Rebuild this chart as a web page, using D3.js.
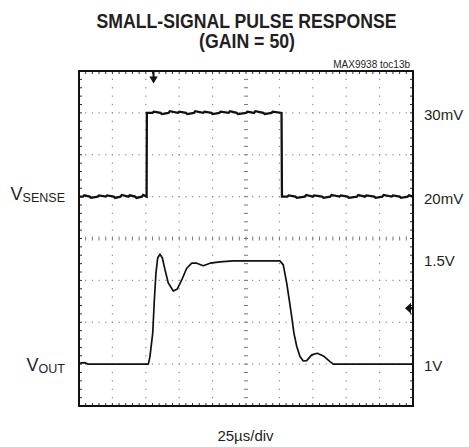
<!DOCTYPE html>
<html>
<head>
<meta charset="utf-8">
<script src="https://cdn.jsdelivr.net/npm/d3@7"></script>
<style>
    body { margin: 0; background: #fff; }
    text { font-family: "Liberation Sans", Arial, Helvetica, sans-serif; fill: #231f20; }
</style>
</head>
<body>
<div id="main"></div>
<script>
// scope settings: 25us/div over 10 div, VSENSE 5mV/div, VOUT 200mV/div, 8 div tall
const timeDomain = [0, 250];
const senseDomain = [-5, 35];
const outDomain = [0.8, 2.4];

// VSENSE trace (us, mV)
const senseTime = [0, 3, 4, 8, 9, 14, 15, 20, 21, 26, 27, 31, 32, 37, 38, 42, 43, 47, 48, 50.6,
    50.8, 55, 56, 61, 62, 67, 68, 74, 75, 80, 81, 86, 87, 93, 94, 99, 100, 105, 106, 112, 113,
    118, 119, 125, 126, 131, 132, 138, 139, 144, 145, 151.6,
    151.9, 156, 157, 162, 163, 169, 170, 175, 176, 182, 183, 188, 189, 195, 196, 201, 202,
    208, 209, 214, 215, 221, 222, 227, 228, 234, 235, 240, 241, 246, 247, 250];
const senseMv = [20.0, 20.0, 20.15, 20.0, 19.85, 20.0, 20.15, 20.0, 20.15, 20.0, 19.85, 20.0, 20.2, 20.0, 20.15, 20.0, 19.85, 20.0, 20.2, 20.0,
    30.0, 30.0, 30.15, 30.0, 29.85, 30.0, 30.2, 30.0, 30.15, 30.0, 29.85, 30.0, 30.2, 30.0, 30.15, 30.0, 29.85, 30.0, 30.15, 30.0, 30.2,
    30.0, 29.85, 30.0, 30.15, 30.0, 30.2, 30.0, 29.85, 30.0, 30.15, 30.0,
    20.0, 20.0, 20.15, 20.0, 19.85, 20.0, 20.2, 20.0, 20.15, 20.0, 19.85, 20.0, 20.2, 20.0, 20.15, 20.0, 19.85,
    20.0, 20.2, 20.0, 20.15, 20.0, 19.85, 20.0, 20.2, 20.0, 20.15, 20.0, 19.85, 20.0, 20.15, 20.0];

// VOUT trace (us, V)
const outTime = [0, 2, 4.5, 6.7, 30, 51.9, 53.1, 55.2, 56.4, 57.6, 58.9, 60.6, 62.4, 64.4, 66.8,
    70.6, 73.6, 76.9, 80.6, 84.4, 88.1, 93.0, 98.1, 105.5, 115.3, 150.4, 152.9, 155.5, 157.4, 159.2,
    160.9, 163.0, 165.4, 167.9, 170.4, 174.2, 178.4, 182.9, 187.9, 190.4, 250];
const outVolts = [1.003, 1.006, 1.007, 1.0, 1.0, 1.0, 1.036, 1.149, 1.306, 1.435, 1.507, 1.525, 1.507, 1.450, 1.388,
    1.349, 1.359, 1.402, 1.458, 1.482, 1.482, 1.470, 1.482, 1.488, 1.493, 1.493, 1.474, 1.386, 1.306, 1.227,
    1.147, 1.084, 1.036, 1.015, 1.017, 1.044, 1.052, 1.039, 1.012, 1.0, 1.0];

// right side level labels
const senseLabels = [30, 20];
const outLabels = [1.5, 1];

// trigger markers
const triggerTime = 55.8;
const triggerLevel = 1.267;

const width = 469, height = 447;
const plotLeft = 79, plotRight = 413, plotTop = 71, plotBottom = 406;
const xDivs = 10, yDivs = 8;

let svg = d3.select('#main')
                .append('svg')
                    .attr('width', width)
                    .attr('height', height);

const x = d3.scaleLinear().domain(timeDomain).range([plotLeft, plotRight]);
const ySense = d3.scaleLinear().domain(senseDomain).range([plotBottom, plotTop]);
const yOut = d3.scaleLinear().domain(outDomain).range([plotBottom, plotTop]);

const dx = (plotRight - plotLeft) / xDivs, dy = (plotBottom - plotTop) / yDivs;

// dotted grid, dots sit on the minor tick positions
const grid = svg.append('g').attr('fill', '#8a8a8a');
for (let i = 1; i < xDivs; i++) {
    if (i === xDivs / 2) continue;
    for (let j = 1; j < yDivs * 5; j++) {
        grid.append('rect')
            .attr('x', plotLeft + i * dx - 0.6).attr('y', plotTop + j * dy / 5 - 0.6)
            .attr('width', 1.2).attr('height', 1.2);
    }
}
for (let k = 1; k < yDivs; k++) {
    if (k === yDivs / 2) continue;
    for (let j = 1; j < xDivs * 5; j++) {
        grid.append('rect')
            .attr('x', plotLeft + j * dx / 5 - 0.6).attr('y', plotTop + k * dy - 0.6)
            .attr('width', 1.2).attr('height', 1.2);
    }
}

// centre axes with minor ticks, plus ticks on the inside of the frame
const ticks = svg.append('g').attr('stroke', '#777').attr('stroke-width', 1);
const cx = plotLeft + dx * xDivs / 2, cy = plotTop + dy * yDivs / 2;
for (let j = 1; j < xDivs * 5; j++) {
    const px = plotLeft + j * dx / 5;
    ticks.append('line').attr('x1', px).attr('x2', px).attr('y1', cy - 2).attr('y2', cy + 2);
    ticks.append('line').attr('x1', px).attr('x2', px).attr('y1', plotTop).attr('y2', plotTop + 3).attr('stroke', '#333');
    ticks.append('line').attr('x1', px).attr('x2', px).attr('y1', plotBottom).attr('y2', plotBottom - 3).attr('stroke', '#333');
}
for (let j = 1; j < yDivs * 5; j++) {
    const py = plotTop + j * dy / 5;
    ticks.append('line').attr('y1', py).attr('y2', py).attr('x1', cx - 2).attr('x2', cx + 2);
    ticks.append('line').attr('y1', py).attr('y2', py).attr('x1', plotLeft).attr('x2', plotLeft + 3).attr('stroke', '#333');
    ticks.append('line').attr('y1', py).attr('y2', py).attr('x1', plotRight).attr('x2', plotRight - 3).attr('stroke', '#333');
}

// frame
svg.append('rect')
    .attr('x', plotLeft).attr('y', plotTop)
    .attr('width', plotRight - plotLeft).attr('height', plotBottom - plotTop)
    .attr('fill', 'none')
    .attr('stroke', '#111')
    .attr('stroke-width', 2);

// traces
const senseLine = d3.line()
    .x((d, i) => x(senseTime[i]))
    .y(d => ySense(d));
const outLine = d3.line()
    .x((d, i) => x(outTime[i]))
    .y(d => yOut(d));

svg.append('path')
    .datum(senseMv)
    .attr('d', senseLine)
    .attr('fill', 'none')
    .attr('stroke', '#111')
    .attr('stroke-width', 2.3);

svg.append('path')
    .datum(outVolts)
    .attr('d', outLine)
    .attr('fill', 'none')
    .attr('stroke', '#111')
    .attr('stroke-width', 1.7)
    .attr('stroke-linejoin', 'round');

// trigger position marker (top) and trigger level marker (right)
const trigX = x(triggerTime);
svg.append('path')
    .attr('d', `M${trigX - 1},${plotTop} V${plotTop + 5.5} H${trigX - 4.2} L${trigX},${plotTop + 12.5} L${trigX + 4.2},${plotTop + 5.5} H${trigX + 1} V${plotTop} Z`)
    .attr('fill', '#111');
const trigY = yOut(triggerLevel);
svg.append('path')
    .attr('d', `M${plotRight},${trigY - 1.3} H${plotRight - 2} V${trigY - 5.5} L${plotRight - 8},${trigY} L${plotRight - 2},${trigY + 5.5} V${trigY + 1.3} H${plotRight} Z`)
    .attr('fill', '#111');

// right labels
svg.selectAll('.sense-label')
    .data(senseLabels)
    .enter()
    .append('text')
        .attr('x', 424)
        .attr('y', d => ySense(d) + 7.5)
        .style('font-size', '15px')
        .text(d => d + 'mV');

svg.selectAll('.out-label')
    .data(outLabels)
    .enter()
    .append('text')
        .attr('x', 424)
        .attr('y', d => yOut(d) + 6.5)
        .style('font-size', '15px')
        .text(d => d + 'V');

// left channel names
const chanNames = [
    { main: 'V', sub: 'SENSE', y: ySense(20) + 3.5 },
    { main: 'V', sub: 'OUT', y: yOut(1) + 7 }
];
chanNames.forEach(c => {
    const t = svg.append('text')
        .attr('x', 65)
        .attr('y', c.y)
        .attr('text-anchor', 'end');
    t.append('tspan').style('font-size', '18px').text(c.main);
    t.append('tspan').style('font-size', '12.5px').attr('dy', 1.5).text(c.sub);
});

// title
svg.append('text')
    .attr('x', 246.5).attr('y', 28)
    .attr('text-anchor', 'middle')
    .attr('textLength', 300).attr('lengthAdjust', 'spacingAndGlyphs')
    .style('font-size', '20px').style('font-weight', 'bold')
    .text('SMALL-SIGNAL PULSE RESPONSE');
svg.append('text')
    .attr('x', 247).attr('y', 48)
    .attr('text-anchor', 'middle')
    .attr('textLength', 96).attr('lengthAdjust', 'spacingAndGlyphs')
    .style('font-size', '20px').style('font-weight', 'bold')
    .text('(GAIN = 50)');

svg.append('text')
    .attr('x', 410).attr('y', 67.5)
    .attr('text-anchor', 'end')
    .style('font-size', '10px')
    .text('MAX9938 toc13b');

svg.append('text')
    .attr('x', 245.5).attr('y', 441)
    .attr('text-anchor', 'middle')
    .style('font-size', '15px')
    .text('25µs/div');
</script>
</body>
</html>
